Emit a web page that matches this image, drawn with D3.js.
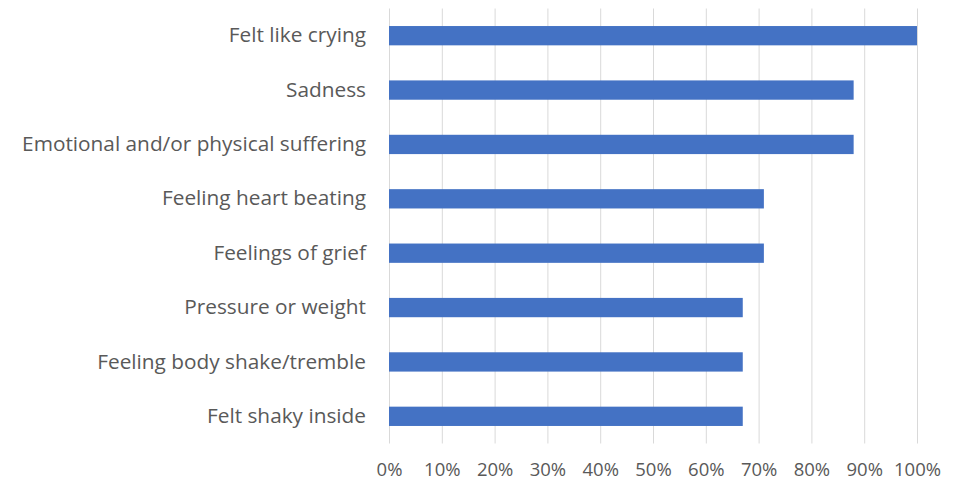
<!DOCTYPE html>
<html>
<head>
<meta charset="utf-8">
<script src="https://cdn.jsdelivr.net/npm/d3@7"></script>
<style>
    body { margin: 0; background: #fff; }
    svg text { font-family: "Open Sans", sans-serif; fill: #595959; }
</style>
</head>
<body>
<div id="chart"></div>
<script>
// categories top to bottom
const categories = [
    "Felt like crying",
    "Sadness",
    "Emotional and/or physical suffering",
    "Feeling heart beating",
    "Feelings of grief",
    "Pressure or weight",
    "Feeling body shake/tremble",
    "Felt shaky inside"
];
const values = [100, 88, 88, 71, 71, 67, 67, 67];
const xTicks = [0, 10, 20, 30, 40, 50, 60, 70, 80, 90, 100];

const width = 958, height = 482;
const margin = { top: 8.5, right: 41, bottom: 38.5, left: 389 };
const plotW = width - margin.left - margin.right;
const plotH = height - margin.top - margin.bottom;

const data = categories.map((c, i) => ({ cat: c, val: values[i] }));

const svg = d3.select("#chart")
    .append("svg")
        .attr("width", width)
        .attr("height", height)
    .append("g")
        .attr("transform", `translate(${margin.left},${margin.top})`);

const x = d3.scaleLinear()
    .domain([0, 100])
    .range([0, plotW]);

const y = d3.scaleBand()
    .domain(categories)
    .range([0, plotH])
    .paddingInner(0.645)
    .paddingOuter(0.3225);

// gridlines
svg.append("g")
    .selectAll("line")
    .data(xTicks)
    .enter()
    .append("line")
        .attr("x1", d => x(d) + 0.5)
        .attr("x2", d => x(d) + 0.5)
        .attr("y1", 0)
        .attr("y2", plotH)
        .attr("stroke", "#d9d9d9")
        .attr("stroke-width", 1);

// bars
svg.selectAll(".bar")
    .data(data)
    .enter()
    .append("rect")
        .attr("class", "bar")
        .attr("x", 0)
        .attr("y", d => y(d.cat))
        .attr("width", d => x(d.val))
        .attr("height", y.bandwidth())
        .style("fill", "#4472c4");

// x axis labels
const xAxis = svg.append("g")
    .attr("transform", `translate(0,${plotH})`)
    .call(d3.axisBottom(x).tickValues(xTicks).tickSize(0).tickPadding(19).tickFormat(d => d + "%"));
xAxis.select(".domain").remove();
xAxis.selectAll("text")
    .attr("font-size", "18.5px")
    .style("font-family", "'Open Sans', sans-serif")
    .attr("fill", "#595959");

// y axis labels
const yAxis = svg.append("g")
    .call(d3.axisLeft(y).tickSize(0).tickPadding(23));
yAxis.select(".domain").remove();
yAxis.selectAll("text")
    .attr("font-size", "20.8px")
    .style("font-family", "'Open Sans', sans-serif")
    .attr("fill", "#595959");
</script>
</body>
</html>
